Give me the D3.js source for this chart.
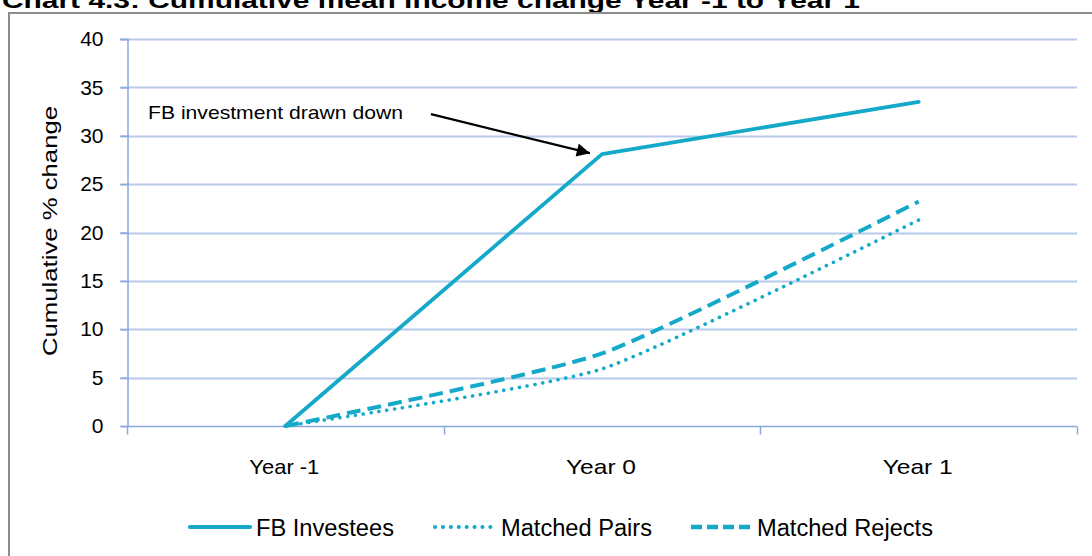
<!DOCTYPE html>
<html>
<head>
<meta charset="utf-8">
<script src="https://cdn.jsdelivr.net/npm/d3@7"></script>
<style>
	body { margin: 0; background: #fff; }
	text { font-family: Arial, "Liberation Sans", sans-serif; fill: #000; }
</style>
</head>
<body>
<svg width="1092" height="556"></svg>
<script>
var years = ["Year -1", "Year 0", "Year 1"]
var fbInvestees = [0, 28.1, 33.5]
var matchedPairs = [0, 5.9, 21.3]
var matchedRejects = [0, 7.5, 23.2]
var yTicks = [0, 5, 10, 15, 20, 25, 30, 35, 40]

var svg = d3.select("svg"),
	width = +svg.attr("width"),
	height = +svg.attr("height")

var teal = "#14a9c9"
var gridCol = "#b8cae9"
var axisCol = "#8aa8dc"

// plot box (note: "top" is reserved on window, so use prefixed names)
var plotL = 127, plotR = 1077, plotT = 39, plotB = 426

var x = d3.scaleBand().domain(years).range([plotL, plotR])
var y = d3.scaleLinear().domain([0, 40]).range([plotB, plotT])

// title, cut off at the top like the original
svg.append("text")
	.attr("x", 2).attr("y", 8)
	.attr("textLength", 858).attr("lengthAdjust", "spacingAndGlyphs")
	.style("font-size", "22px").style("font-weight", "bold")
	.text("Chart 4.3: Cumulative mean income change Year -1 to Year 1")

// chart frame
svg.append("rect")
	.attr("x", 9).attr("y", 13)
	.attr("width", width + 20).attr("height", height + 20)
	.attr("fill", "none").attr("stroke", "#8c8c8c").attr("stroke-width", 2)

// gridlines
svg.append("g").selectAll("line")
	.data(yTicks.filter(d => d > 0)).enter().append("line")
	.attr("x1", plotL - 7).attr("x2", plotR)
	.attr("y1", d => Math.round(y(d)) + 0.5).attr("y2", d => Math.round(y(d)) + 0.5)
	.attr("stroke", gridCol).attr("stroke-width", 2)

// y axis
var yAxis = svg.append("g")
	.attr("transform", "translate(" + (plotL + 0.5) + ",0)")
	.call(d3.axisLeft(y).tickValues(yTicks).tickSize(7).tickPadding(17))
yAxis.select(".domain").attr("stroke", axisCol).attr("stroke-width", 1.5)
yAxis.selectAll(".tick line").attr("stroke", axisCol).attr("stroke-width", 1.5)
yAxis.selectAll("text")
	.style("font-size", "21px").attr("fill", "#000")

// x axis with ticks between the categories
var xAxis = svg.append("g")
	.attr("transform", "translate(0," + (plotB + 0.5) + ")")
xAxis.append("line")
	.attr("x1", plotL).attr("x2", plotR)
	.attr("stroke", axisCol).attr("stroke-width", 1.5)
xAxis.selectAll("line.tk")
	.data(years.map(d => x(d)).concat([plotR])).enter().append("line")
	.attr("class", "tk")
	.attr("x1", d => Math.round(d) + 0.5).attr("x2", d => Math.round(d) + 0.5)
	.attr("y1", 0).attr("y2", 8)
	.attr("stroke", axisCol).attr("stroke-width", 1.5)
xAxis.selectAll("text")
	.data(years).enter().append("text")
	.attr("x", d => x(d) + x.bandwidth() / 2 - 1)
	.attr("y", 47)
	.attr("text-anchor", "middle")
	.attr("textLength", 70).attr("lengthAdjust", "spacingAndGlyphs")
	.style("font-size", "21px")
	.text(d => d)

// y axis title
svg.append("text")
	.attr("transform", "translate(57,231) rotate(-90)")
	.attr("text-anchor", "middle")
	.attr("textLength", 250).attr("lengthAdjust", "spacingAndGlyphs")
	.style("font-size", "21px")
	.text("Cumulative % change")

// series (the two comparison groups are drawn smoothed, like excel)
var smooth = d3.curveCardinal.tension(0.45)
var series = [
	{ name: "FB Investees", values: fbInvestees, dash: null, width: 3.8, cap: "round", curve: d3.curveLinear, legDash: null },
	{ name: "Matched Pairs", values: matchedPairs, dash: "0.1,7.8", width: 3.6, cap: "round", curve: smooth, legDash: "0.1,7.8" },
	{ name: "Matched Rejects", values: matchedRejects, dash: "14,7", width: 4, cap: "butt", curve: smooth, legDash: "11,5" }
]

series.forEach(function(s) {
	var line = d3.line()
		.x((d, i) => x(years[i]) + x.bandwidth() / 2)
		.y(d => y(d))
		.curve(s.curve)
	svg.append("path")
		.datum(s.values)
		.attr("d", line)
		.attr("fill", "none")
		.attr("stroke", teal)
		.attr("stroke-width", s.width)
		.attr("stroke-linecap", s.cap)
		.attr("stroke-linejoin", "round")
		.attr("stroke-dasharray", s.dash)
})

// annotation with arrow pointing at the FB Investees Year 0 point
var defs = svg.append("defs")
defs.append("marker")
	.attr("id", "arrow")
	.attr("viewBox", "0 0 10 10")
	.attr("refX", 10).attr("refY", 5)
	.attr("markerWidth", 7).attr("markerHeight", 6)
	.attr("markerUnits", "strokeWidth")
	.attr("orient", "auto")
	.append("path").attr("d", "M0,0L10,5L0,10z").attr("fill", "#000")

var tipX = x("Year 0") + x.bandwidth() / 2 - 12
var tipY = y(fbInvestees[1]) - 1
svg.append("line")
	.attr("x1", tipX - 159).attr("y1", tipY - 39)
	.attr("x2", tipX).attr("y2", tipY)
	.attr("stroke", "#000").attr("stroke-width", 2.2)
	.attr("marker-end", "url(#arrow)")
svg.append("text")
	.attr("x", 148).attr("y", tipY - 34)
	.attr("textLength", 255).attr("lengthAdjust", "spacingAndGlyphs")
	.style("font-size", "19px")
	.text("FB investment drawn down")

// legend
var legX = [190, 433, 691]
var leg = svg.append("g").selectAll("g")
	.data(series).enter().append("g")
	.attr("transform", (d, i) => "translate(" + legX[i] + ",527)")
leg.append("line")
	.attr("x1", d => d.legDash && d.cap == "round" ? 2 : 0).attr("x2", 60)
	.attr("stroke", teal)
	.attr("stroke-width", d => d.width + 0.4)
	.attr("stroke-linecap", d => d.cap)
	.attr("stroke-dasharray", d => d.legDash)
leg.append("text")
	.attr("x", (d, i) => [66, 68, 66][i])
	.attr("y", 9)
	.attr("textLength", (d, i) => [138, 151, 176][i]).attr("lengthAdjust", "spacingAndGlyphs")
	.style("font-size", "23px")
	.text(d => d.name)
</script>
</body>
</html>
